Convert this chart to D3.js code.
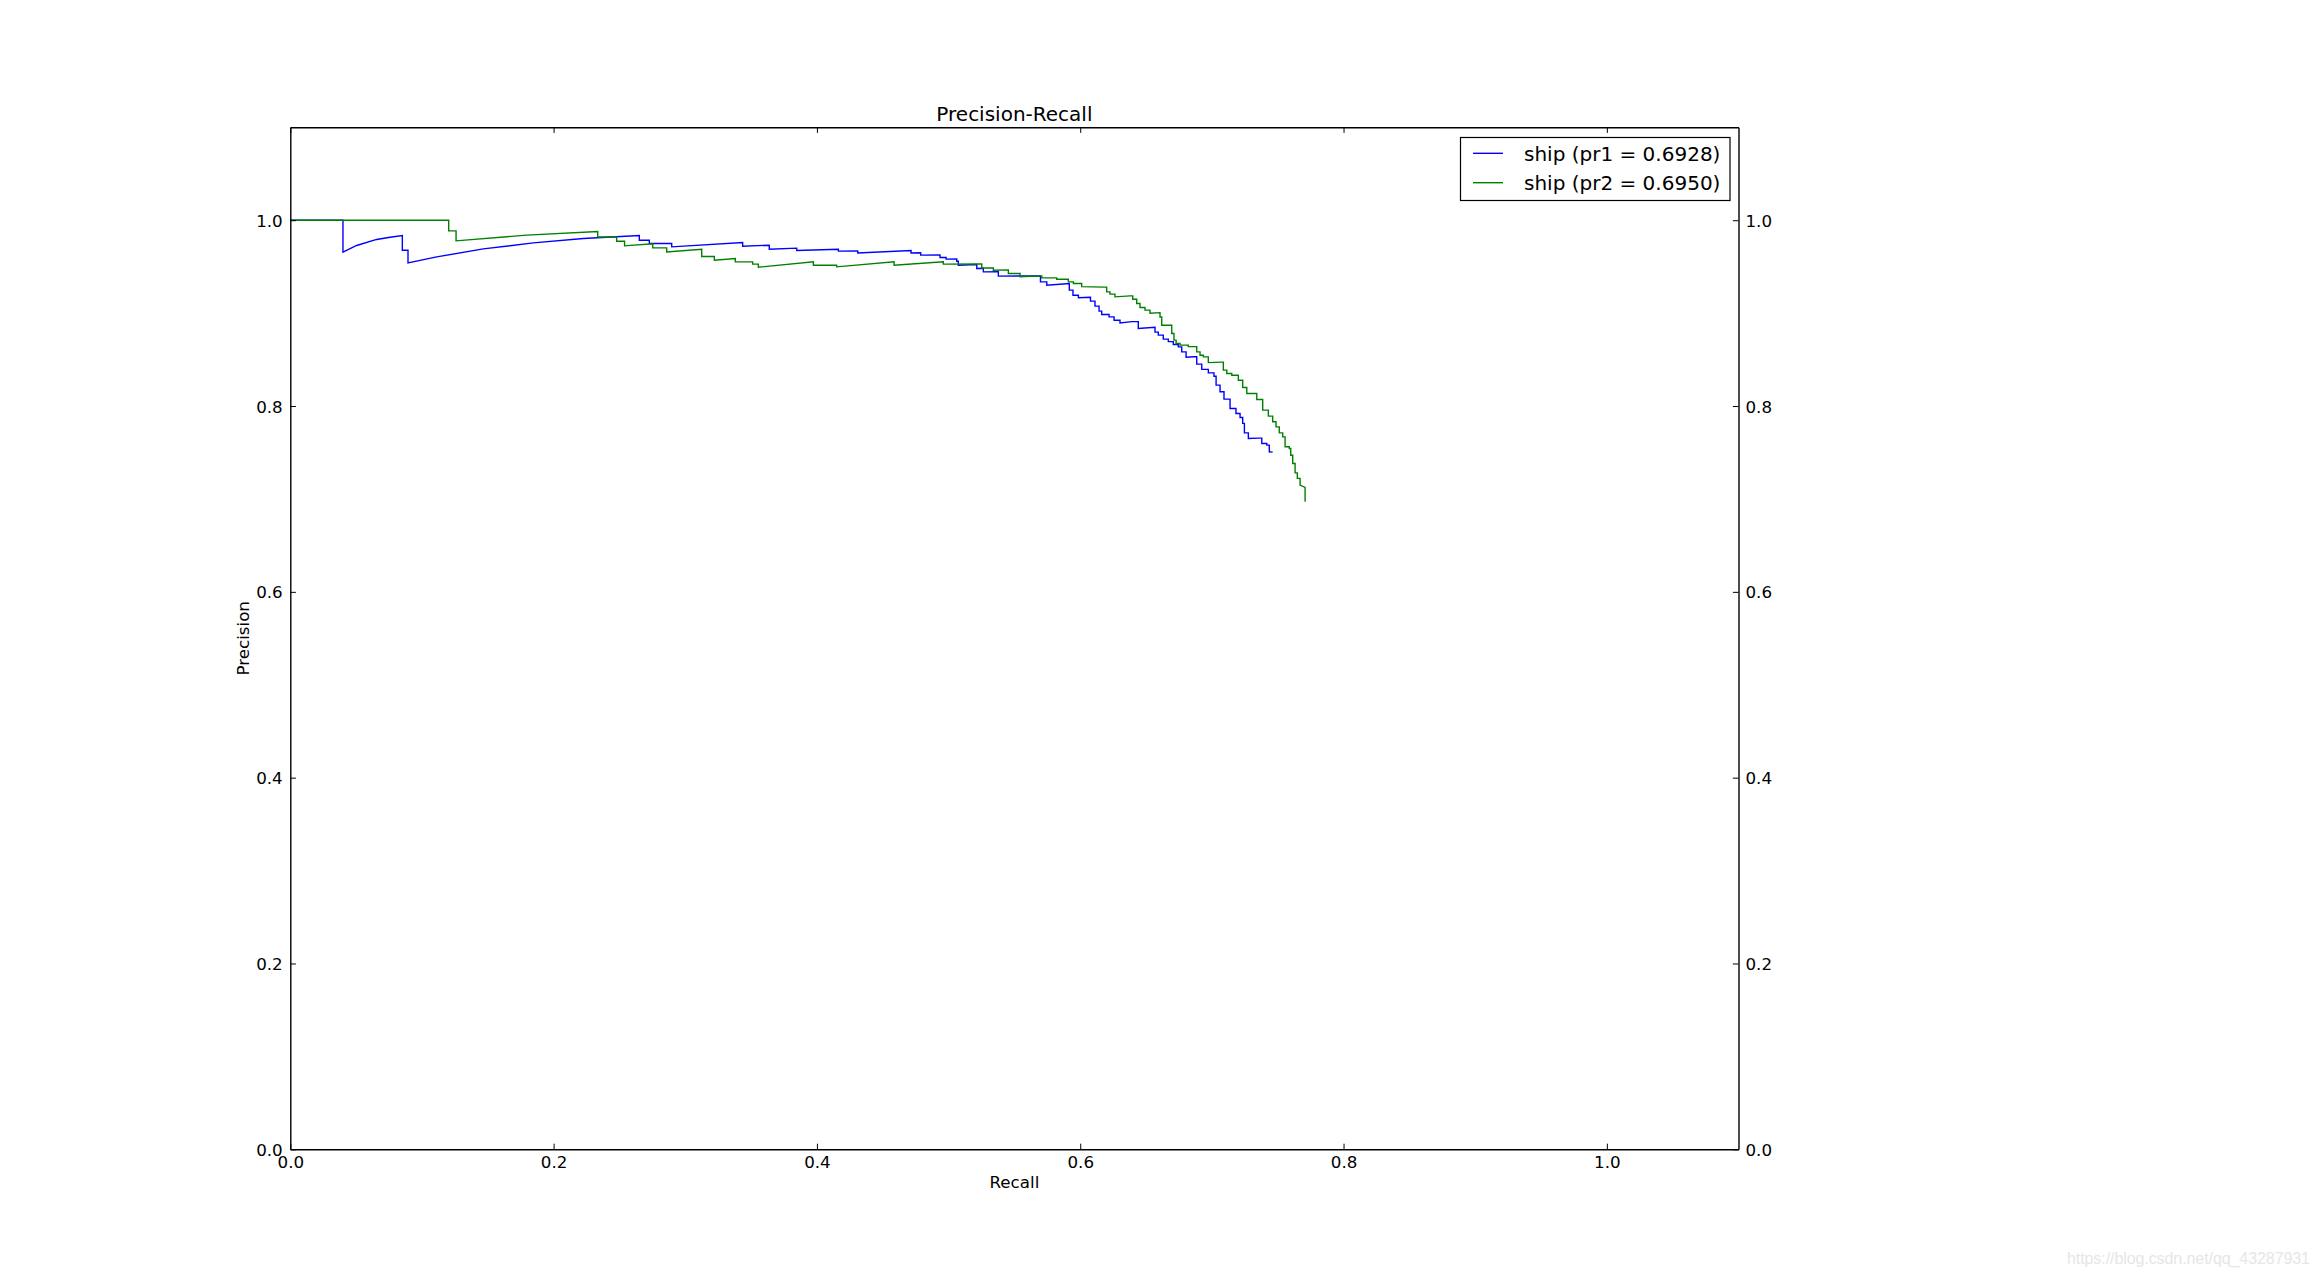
<!DOCTYPE html>
<html>
<head>
<meta charset="utf-8">
<script src="https://cdn.jsdelivr.net/npm/d3@7"></script>
<style>
  html, body { margin: 0; padding: 0; background: #ffffff; }
  svg { display: block; }
</style>
</head>
<body>
<script>
// ---------------- data ----------------
const chartTitle = "Precision-Recall";
const xLabel = "Recall";
const yLabel = "Precision";
const xTicks = [0.0, 0.2, 0.4, 0.6, 0.8, 1.0];
const yTicks = [0.0, 0.2, 0.4, 0.6, 0.8, 1.0];
const seriesNames = ["ship (pr1 = 0.6928)", "ship (pr2 = 0.6950)"];
const seriesColors = ["#0000ff", "#008000"];

const recall1 = [0, 0.040, 0.040, 0.0504, 0.0656, 0.0757, 0.0851, 0.0851, 0.0894, 0.0894,
  0.1112, 0.1466, 0.1846, 0.2226, 0.2651, 0.2651, 0.2727, 0.2727, 0.2897, 0.2897,
  0.3436, 0.3436, 0.3638, 0.3638, 0.3847, 0.3847, 0.4163, 0.4163, 0.4310, 0.4310,
  0.4715, 0.4715, 0.4788, 0.4788, 0.4935, 0.4935, 0.4981, 0.4981, 0.5062, 0.5062,
  0.5074, 0.5074, 0.5214, 0.5214, 0.5264, 0.5264, 0.5378, 0.5378, 0.5698, 0.5698,
  0.5746, 0.5746, 0.5917, 0.5917, 0.5945, 0.5945, 0.5986, 0.5986, 0.6078, 0.6078,
  0.6112, 0.6112, 0.6143, 0.6143, 0.6163, 0.6163, 0.6219, 0.6219, 0.6257, 0.6257,
  0.6302, 0.6302, 0.6393, 0.6441, 0.6441, 0.6568, 0.6568, 0.6593, 0.6593, 0.6631,
  0.6631, 0.6669, 0.6669, 0.6707, 0.6707, 0.6745, 0.6745, 0.6771, 0.6771, 0.6804,
  0.6804, 0.6859, 0.6885, 0.6885, 0.6923, 0.6923, 0.6973, 0.6973, 0.7016, 0.7016,
  0.7032, 0.7032, 0.7062, 0.7062, 0.7092, 0.7092, 0.7138, 0.7138, 0.7183, 0.7183,
  0.7214, 0.7214, 0.7234, 0.7234, 0.7247, 0.7247, 0.7277, 0.7277, 0.7353, 0.7379,
  0.7379, 0.7417, 0.7417, 0.7436, 0.7436, 0.7462];
const precision1 = [1.0, 1.0, 0.9656, 0.9728, 0.9793, 0.9817, 0.9836, 0.9677, 0.9677, 0.9541,
  0.9605, 0.9691, 0.9756, 0.9803, 0.9836, 0.9785, 0.9785, 0.9749, 0.9749, 0.9713,
  0.9760, 0.9720, 0.9731, 0.9688, 0.9699, 0.9674, 0.9688, 0.9667, 0.9670, 0.9648,
  0.9674, 0.9648, 0.9650, 0.9624, 0.9626, 0.9599, 0.9600, 0.9581, 0.9582, 0.9559,
  0.9559, 0.9516, 0.9523, 0.9480, 0.9482, 0.9444, 0.9446, 0.9398, 0.9401, 0.9336,
  0.9336, 0.9301, 0.9319, 0.9247, 0.9247, 0.9193, 0.9193, 0.9166, 0.9171, 0.9129,
  0.9129, 0.9075, 0.9075, 0.9021, 0.9021, 0.8985, 0.8985, 0.8960, 0.8960, 0.8924,
  0.8924, 0.8895, 0.8908, 0.8908, 0.8835, 0.8847, 0.8795, 0.8795, 0.8763, 0.8763,
  0.8720, 0.8720, 0.8693, 0.8693, 0.8663, 0.8663, 0.8637, 0.8637, 0.8583, 0.8583,
  0.8526, 0.8530, 0.8530, 0.8451, 0.8451, 0.8394, 0.8394, 0.8357, 0.8357, 0.8321,
  0.8321, 0.8225, 0.8225, 0.8153, 0.8153, 0.8074, 0.8074, 0.7974, 0.7974, 0.7920,
  0.7920, 0.7877, 0.7877, 0.7813, 0.7813, 0.7711, 0.7711, 0.7651, 0.7654, 0.7654,
  0.7597, 0.7597, 0.7579, 0.7579, 0.7507, 0.7504];

const recall2 = [0, 0.1203, 0.1203, 0.1259, 0.1259, 0.1796, 0.2335, 0.2335, 0.2479, 0.2479,
  0.2539, 0.2539, 0.2753, 0.2753, 0.2859, 0.2859, 0.3125, 0.3125, 0.3221, 0.3221,
  0.3380, 0.3380, 0.3512, 0.3512, 0.3555, 0.3555, 0.3973, 0.3973, 0.4150, 0.4150,
  0.4586, 0.4586, 0.4960, 0.4960, 0.5252, 0.5252, 0.5340, 0.5340, 0.5454, 0.5454,
  0.5543, 0.5543, 0.5708, 0.5708, 0.5821, 0.5821, 0.5910, 0.5910, 0.5948, 0.5948,
  0.6011, 0.6011, 0.6181, 0.6201, 0.6201, 0.6226, 0.6226, 0.6264, 0.6264, 0.6378,
  0.6399, 0.6399, 0.6429, 0.6429, 0.6454, 0.6454, 0.6492, 0.6492, 0.6530, 0.6530,
  0.6606, 0.6606, 0.6619, 0.6619, 0.6695, 0.6695, 0.6712, 0.6712, 0.6728, 0.6728,
  0.6758, 0.6758, 0.6821, 0.6821, 0.6885, 0.6885, 0.6910, 0.6910, 0.6935, 0.6935,
  0.6973, 0.6973, 0.7075, 0.7087, 0.7087, 0.7113, 0.7113, 0.7151, 0.7151, 0.7201,
  0.7201, 0.7234, 0.7234, 0.7265, 0.7265, 0.7341, 0.7341, 0.7386, 0.7386, 0.7429,
  0.7429, 0.7462, 0.7462, 0.7487, 0.7487, 0.7512, 0.7512, 0.7538, 0.7538, 0.7556,
  0.7556, 0.7588, 0.7588, 0.7599, 0.7599, 0.7614, 0.7614, 0.7632, 0.7632, 0.7649,
  0.7649, 0.7670, 0.7670, 0.7708, 0.7708];
const precision2 = [1.0, 1.0, 0.9885, 0.9885, 0.9778, 0.9839, 0.9879, 0.9820, 0.9820, 0.9774,
  0.9774, 0.9724, 0.9747, 0.9702, 0.9702, 0.9659, 0.9688, 0.9610, 0.9610, 0.9570,
  0.9588, 0.9552, 0.9552, 0.9527, 0.9527, 0.9494, 0.9552, 0.9516, 0.9516, 0.9498,
  0.9552, 0.9516, 0.9552, 0.9527, 0.9530, 0.9485, 0.9485, 0.9462, 0.9465, 0.9427,
  0.9427, 0.9392, 0.9401, 0.9379, 0.9379, 0.9365, 0.9365, 0.9336, 0.9336, 0.9319,
  0.9319, 0.9285, 0.9280, 0.9280, 0.9229, 0.9229, 0.9204, 0.9204, 0.9175, 0.9186,
  0.9186, 0.9150, 0.9150, 0.9104, 0.9104, 0.9061, 0.9061, 0.9032, 0.9032, 0.8999,
  0.9005, 0.8959, 0.8959, 0.8870, 0.8870, 0.8781, 0.8781, 0.8709, 0.8709, 0.8673,
  0.8673, 0.8655, 0.8655, 0.8639, 0.8639, 0.8583, 0.8583, 0.8547, 0.8547, 0.8529,
  0.8529, 0.8467, 0.8472, 0.8472, 0.8386, 0.8386, 0.8350, 0.8350, 0.8332, 0.8332,
  0.8278, 0.8278, 0.8200, 0.8200, 0.8135, 0.8135, 0.8071, 0.8071, 0.7956, 0.7956,
  0.7891, 0.7891, 0.7830, 0.7830, 0.7776, 0.7776, 0.7711, 0.7711, 0.7668, 0.7668,
  0.7561, 0.7561, 0.7543, 0.7543, 0.7471, 0.7471, 0.7382, 0.7382, 0.7281, 0.7281,
  0.7221, 0.7221, 0.7149, 0.7124, 0.6969];

const watermark = "https://blog.csdn.net/qq_43287931";

// ---------------- layout ----------------
const W = 2318, H = 1277;
const plotL = 290.3, plotR = 1738.5, plotT = 127.3, plotB = 1149.3;
const FONT = "'DejaVu Sans', sans-serif";

const svg = d3.select("body").append("svg")
  .attr("width", W).attr("height", H)
  .style("background", "#ffffff");

const x = d3.scaleLinear().domain([0, 1.1]).range([plotL, plotR]);
const y = d3.scaleLinear().domain([0, 1.1]).range([plotB, plotT]);
const fmt = d3.format(".1f");

// ---------------- curves ----------------
const series = [
  { name: seriesNames[0], color: seriesColors[0], pts: recall1.map((r, i) => [r, precision1[i]]) },
  { name: seriesNames[1], color: seriesColors[1], pts: recall2.map((r, i) => [r, precision2[i]]) }
];
const line = d3.line().x(d => x(d[0])).y(d => y(d[1]));

svg.append("g").selectAll("path").data(series).join("path")
  .attr("d", d => line(d.pts))
  .attr("fill", "none")
  .attr("stroke", d => d.color)
  .attr("stroke-width", 1.4)
  .attr("stroke-linejoin", "miter");

// ---------------- axes ----------------
function styleAxis(g, showLabels) {
  g.select(".domain").attr("stroke", "#000").attr("stroke-width", 1.4);
  g.selectAll(".tick line").attr("stroke", "#000").attr("stroke-width", 1);
  g.selectAll(".tick text")
    .attr("fill", "#000")
    .style("font-family", FONT)
    .style("font-size", "16.7px");
  if (!showLabels) g.selectAll(".tick text").remove();
}

const gBottom = svg.append("g").attr("transform", `translate(0,${plotB})`)
  .call(d3.axisBottom(x).tickValues(xTicks).tickFormat(fmt).tickSizeInner(-5.6).tickSizeOuter(0).tickPadding(7));
styleAxis(gBottom, true);

const gTop = svg.append("g").attr("transform", `translate(0,${plotT})`)
  .call(d3.axisTop(x).tickValues(xTicks).tickFormat(fmt).tickSizeInner(-5.6).tickSizeOuter(0));
styleAxis(gTop, false);

const gLeft = svg.append("g").attr("transform", `translate(${plotL},0)`)
  .call(d3.axisLeft(y).tickValues(yTicks).tickFormat(fmt).tickSizeInner(-5.6).tickSizeOuter(0).tickPadding(7.6));
styleAxis(gLeft, true);
gLeft.selectAll(".tick text").attr("dy", "0.36em");

const gRight = svg.append("g").attr("transform", `translate(${plotR},0)`)
  .call(d3.axisRight(y).tickValues(yTicks).tickFormat(fmt).tickSizeInner(-5.6).tickSizeOuter(0).tickPadding(7));
styleAxis(gRight, true);
gRight.selectAll(".tick text").attr("dy", "0.36em");

// ---------------- titles ----------------
svg.append("text")
  .attr("x", (plotL + plotR) / 2).attr("y", 121)
  .attr("text-anchor", "middle")
  .style("font-family", FONT).style("font-size", "20px")
  .text(chartTitle);

svg.append("text")
  .attr("x", (plotL + plotR) / 2).attr("y", 1188.3)
  .attr("text-anchor", "middle")
  .style("font-family", FONT).style("font-size", "16.7px")
  .text(xLabel);

svg.append("text")
  .attr("transform", `translate(249.3,${(plotT + plotB) / 2}) rotate(-90)`)
  .attr("text-anchor", "middle")
  .style("font-family", FONT).style("font-size", "16.7px")
  .text(yLabel);

// ---------------- legend ----------------
const lg = svg.append("g");
lg.append("rect")
  .attr("x", 1460.5).attr("y", 137.5).attr("width", 269.5).attr("height", 63)
  .attr("fill", "#fff").attr("stroke", "#000").attr("stroke-width", 1.2);
const rowsY = [153.3, 182.7];
series.forEach((s, i) => {
  lg.append("line")
    .attr("x1", 1473).attr("x2", 1503)
    .attr("y1", rowsY[i]).attr("y2", rowsY[i])
    .attr("stroke", s.color).attr("stroke-width", 1.4);
  lg.append("text")
    .attr("x", 1524).attr("y", rowsY[i] + 7.3)
    .style("font-family", FONT).style("font-size", "20px")
    .text(s.name);
});

// ---------------- watermark ----------------
svg.append("text")
  .attr("x", 2067).attr("y", 1264)
  .attr("textLength", 243)
  .style("font-family", "'Liberation Sans', Arial, sans-serif")
  .style("font-size", "16px")
  .attr("fill", "#e6e6e6")
  .text(watermark);
</script>
</body>
</html>
